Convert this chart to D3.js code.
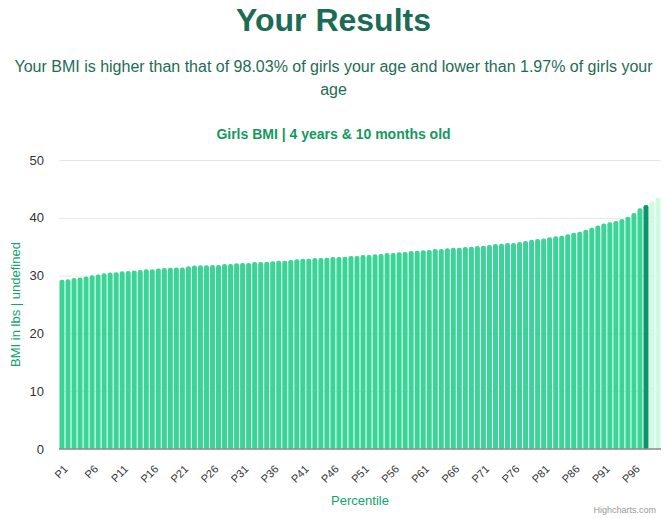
<!DOCTYPE html>
<html>
<head>
<meta charset="utf-8">
<script src="https://cdn.jsdelivr.net/npm/d3@7"></script>
<style>
  body { margin: 0; background: #fff; font-family: "Liberation Sans", Arial, sans-serif; }
  svg text { font-family: "Liberation Sans", Arial, sans-serif; }
</style>
</head>
<body>
<svg></svg>
<script>
const size = {w: 667, h: 519};
const plot = {l: 59, r: 661, t: 160, b: 449};

// percentile values
const bmiValues = [
  29.3, 29.35, 29.6, 29.65, 29.85, 30.05, 30.2, 30.4, 30.55, 30.6,
  30.75, 30.8, 30.9, 30.95, 31.1, 31.1, 31.25, 31.3, 31.35, 31.4,
  31.4, 31.6, 31.75, 31.8, 31.8, 31.85, 31.85, 32.0, 32.0, 32.15,
  32.2, 32.2, 32.35, 32.35, 32.4, 32.5, 32.55, 32.55, 32.7, 32.85,
  32.9, 32.9, 33.05, 33.05, 33.1, 33.2, 33.2, 33.25, 33.4, 33.4,
  33.55, 33.55, 33.7, 33.75, 33.9, 33.9, 34.05, 34.1, 34.25, 34.3,
  34.4, 34.45, 34.6, 34.6, 34.75, 34.8, 34.8, 34.95, 35.0, 35.1,
  35.15, 35.3, 35.45, 35.5, 35.65, 35.65, 35.8, 36.0, 36.2, 36.35,
  36.4, 36.65, 36.8, 36.9, 37.15, 37.4, 37.6, 37.95, 38.3, 38.65,
  39.0, 39.25, 39.45, 39.8, 40.2, 40.85, 41.65, 42.2, 42.8, 43.5
];
const percentiles = bmiValues.map((d, i) => `P${i + 1}`);
const yTicks = [0, 10, 20, 30, 40, 50];
const userPercentile = 'P98';

const svg = d3.select('svg')
    .attr('width', size.w)
    .attr('height', size.h);

// heading texts
svg.append('text')
    .attr('x', size.w / 2).attr('y', 31)
    .attr('text-anchor', 'middle')
    .attr('font-size', 32).attr('font-weight', 'bold')
    .attr('fill', '#1b6b55')
    .text('Your Results');

const subLines = ['Your BMI is higher than that of 98.03% of girls your age and lower than 1.97% of girls your', 'age'];
svg.append('g').selectAll('text')
    .data(subLines)
    .join('text')
    .attr('x', size.w / 2)
    .attr('y', (d, i) => 72 + i * 23)
    .attr('text-anchor', 'middle')
    .attr('font-size', 16)
    .attr('fill', '#1f6b55')
    .text(d => d);

svg.append('text')
    .attr('x', size.w / 2).attr('y', 139)
    .attr('text-anchor', 'middle')
    .attr('font-size', 14).attr('font-weight', 'bold')
    .attr('fill', '#12995f')
    .text('Girls BMI | 4 years & 10 months old');

// scales
const scaleX = d3.scaleBand()
    .domain(percentiles)
    .range([plot.l, plot.r])
    .paddingInner(0.17)
    .paddingOuter(0.08);

const scaleY = d3.scaleLinear()
    .domain([0, 50])
    .range([plot.b, plot.t]);

// grid + y labels
const axisY = d3.axisLeft(scaleY)
    .tickValues(yTicks)
    .tickSize(-(plot.r - plot.l))
    .tickPadding(15);

const yG = svg.append('g')
    .attr('transform', `translate(${plot.l}, 0)`)
    .call(axisY);
yG.select('.domain').remove();
yG.selectAll('.tick line').attr('stroke', '#e6e6e6');
yG.selectAll('.tick text')
    .attr('font-size', 13)
    .attr('fill', '#333')
    .attr('dx', 0);

// bars
const colorOf = (d, i) => {
  const p = percentiles[i];
  if (p === userPercentile) return '#059669';
  if (i > percentiles.indexOf(userPercentile)) return '#d1fae5';
  return '#3bd497';
};

const barPath = (x, y, w, h, r) => {
  r = Math.min(r, w / 2, h);
  return `M${x},${y + h}V${y + r}Q${x},${y} ${x + r},${y}H${x + w - r}Q${x + w},${y} ${x + w},${y + r}V${y + h}Z`;
};

svg.append('g').selectAll('path.bar')
    .data(bmiValues)
    .join('path')
    .classed('bar', true)
    .attr('d', (d, i) => {
      const x = scaleX(percentiles[i]);
      const y = scaleY(d);
      return barPath(x, y, scaleX.bandwidth(), plot.b - y, 2.2);
    })
    .attr('fill', colorOf);

// x axis
const axisX = d3.axisBottom(scaleX)
    .tickValues(percentiles.filter((d, i) => i % 5 === 0))
    .tickSize(0)
    .tickSizeOuter(0);

const xG = svg.append('g')
    .attr('transform', `translate(0, ${plot.b})`)
    .call(axisX);
xG.select('.domain')
    .attr('stroke', '#8c8c8c')
    .attr('stroke-width', 1.5)
    .attr('d', `M${plot.l},0H${plot.r}`);
xG.selectAll('.tick text')
    .attr('font-size', 11)
    .attr('fill', '#333')
    .attr('text-anchor', 'end')
    .attr('transform', 'translate(4, 18) rotate(-45)')
    .attr('dy', '0.35em')
    .attr('y', 0);

// axis titles
svg.append('text')
    .attr('x', (plot.l + plot.r) / 2).attr('y', 505)
    .attr('text-anchor', 'middle')
    .attr('font-size', 13)
    .attr('fill', '#12a36e')
    .text('Percentile');

svg.append('text')
    .attr('transform', `translate(20, ${(plot.t + plot.b) / 2}) rotate(-90)`)
    .attr('text-anchor', 'middle')
    .attr('font-size', 13)
    .attr('fill', '#12a36e')
    .text('BMI in lbs | undefined');

// credits
svg.append('text')
    .attr('x', 656).attr('y', 513)
    .attr('text-anchor', 'end')
    .attr('font-size', 9)
    .attr('fill', '#999')
    .text('Highcharts.com');
</script>
</body>
</html>
